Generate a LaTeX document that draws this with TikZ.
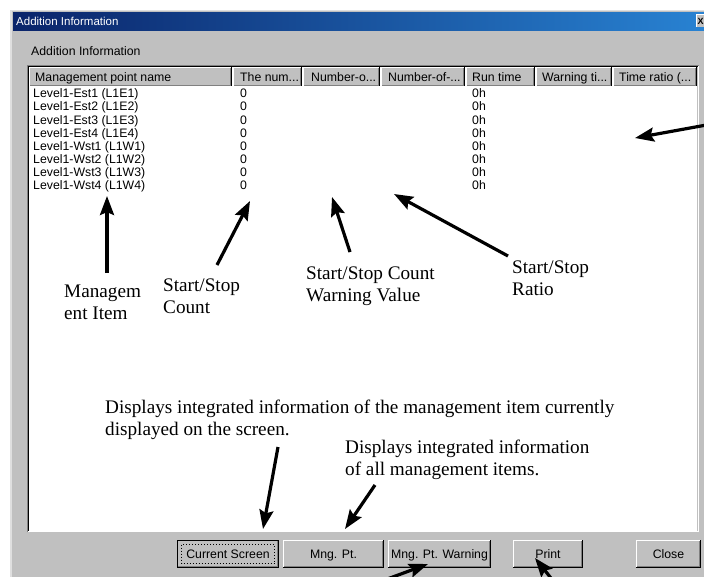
\documentclass[tikz,border=0pt]{standalone}
\usepackage{fontspec}
\setmainfont{Liberation Serif}
\newfontfamily\uifont{Liberation Sans}
\usetikzlibrary{arrows.meta}

\definecolor{winface}{RGB}{192,192,192}
\definecolor{winshadow}{RGB}{128,128,128}
\definecolor{winlight}{RGB}{223,223,223}
\definecolor{titlenavy}{RGB}{10,36,106}
\definecolor{titleblue}{RGB}{40,130,210}

% truncated column caption marker
\newcommand\trunc{...}

\tikzset{
  px/.style={line width=1pt},
  ui/.style={font=\uifont\fontsize{12.3}{14}\selectfont, inner sep=0pt, anchor=base west},
  note/.style={font=\fontsize{19.2}{22}\selectfont, inner sep=0pt, anchor=base west},
  callout/.style={line width=3.2pt, -{Stealth[length=19pt,width=14pt,inset=3pt]}},
}

\begin{document}
\begin{tikzpicture}[x=1pt,y=-1pt]
\useasboundingbox (0,0) rectangle (704,576);
\clip (0,0) rectangle (704,576);
\fill[white] (0,0) rectangle (704,576);

% dialog frame and title bar
\fill[winlight] (10,10) rectangle (710,580);
\fill[winface] (12,11) rectangle (710,580);
\shade[left color=titlenavy, right color=titleblue] (13,12) rectangle (704,30);
\node[ui, font=\uifont\fontsize{11.5}{13}\selectfont, text=white] (title) at (16,25.5) {Addition Information};
\fill[winface] (696,14) rectangle (715,27);
\draw[px, white] (696.5,27) -- (696.5,14.5) -- (715,14.5);
\node[ui, font=\uifont\bfseries\fontsize{9}{11}\selectfont] (closex) at (697.5,24.5) {X};

\node[ui] (grouplabel) at (31,55.5) {Addition Information};

% sunken list panel
\fill[white] (29,67) rectangle (697,531);
\draw[px, winshadow] (27.5,532) -- (27.5,65.5) -- (699,65.5);
\draw[px, black] (28.5,531) -- (28.5,66.5) -- (698,66.5);
\draw[px, white] (28,531.5) -- (698.5,531.5) -- (698.5,66);

% column headers
\foreach \xa/\xb/\tx/\txt/\nm in {
  29/232/35/Management point name/hname,
  233/302/240/The num\trunc/hnum,
  303/380/311/Number-o\trunc/hwarn,
  381/465/388/Number-of-\trunc/hratio,
  466/535/472/Run time/hrun,
  536/612/542/Warning ti\trunc/hwtime,
  613/697/619/Time ratio (\trunc/htratio}{
  \fill[winface] (\xa,67) rectangle (\xb,86);
  \draw[px, white] (\xa+0.5,86) -- (\xa+0.5,67.5) -- (\xb-1,67.5);
  \draw[px, winshadow] (\xa+1,85.5) -- (\xb-1.5,85.5) -- (\xb-1.5,68);
  \draw[px, black] (\xb-0.5,67) -- (\xb-0.5,86);
  \node[ui] (\nm) at (\tx,81.5) {\txt};
}

% list rows
\foreach \i/\txt in {0/Level1-Est1 (L1E1), 1/Level1-Est2 (L1E2), 2/Level1-Est3 (L1E3),
  3/Level1-Est4 (L1E4), 4/Level1-Wst1 (L1W1), 5/Level1-Wst2 (L1W2),
  6/Level1-Wst3 (L1W3), 7/Level1-Wst4 (L1W4)}{
  \node[ui] (row\i) at (33,{97.8+13.1*\i}) {\txt};
  \node[ui] (cnt\i) at (240,{97.8+13.1*\i}) {0};
  \node[ui] (run\i) at (472,{97.8+13.1*\i}) {0h};
}

% push buttons
\foreach \xa/\xb/\txt/\nm in {
  177/279/Current Screen/bcur,
  283/384/Mng. Pt./bmng,
  388/491/Mng. Pt. Warning/bmngw,
  513/583/Print/bprint,
  636/701/Close/bclose}{
  \fill[winface] (\xa,540) rectangle (\xb,568);
  \draw[px, white] (\xa+0.5,567) -- (\xa+0.5,540.5) -- (\xb-1,540.5);
  \draw[px, winshadow] (\xa+1,566.5) -- (\xb-1.5,566.5) -- (\xb-1.5,541);
  \draw[px, black] (\xa,567.5) -- (\xb-0.5,567.5) -- (\xb-0.5,540);
  \node[ui, anchor=base] (\nm) at ({(\xa+\xb)/2},558) {\txt};
}
% default button focus
\draw[px, black] (177.5,540.5) rectangle (278.5,567.5);
\draw[px, black, dotted] (181.5,544.5) rectangle (274.5,563.5);

% callout texts
\node[note] (mgmt1) at (64,297) {Managem};
\node[note] (mgmt2) at (64,319) {ent Item};
\node[note] (ssc1) at (163,291) {Start/Stop};
\node[note] (ssc2) at (163,313) {Count};
\node[note] (sscw1) at (306,279) {Start/Stop Count};
\node[note] (sscw2) at (306,301) {Warning Value};
\node[note] (ssr1) at (512,273) {Start/Stop};
\node[note] (ssr2) at (512,295) {Ratio};
\node[note] (cur1) at (105,413) {Displays integrated information of the management item currently};
\node[note] (cur2) at (105,435) {displayed on the screen.};
\node[note] (all1) at (345,453) {Displays integrated information};
\node[note] (all2) at (345,475) {of all management items.};

% callout arrows
\coordinate (tMgmt) at (107,273);   \coordinate (hMgmt) at (107,196);
\coordinate (tCnt)  at (217,265);   \coordinate (hCnt)  at (250,201);
\coordinate (tWarn) at (350,252);   \coordinate (hWarn) at (332,197);
\coordinate (tRat)  at (508,256);   \coordinate (hRat)  at (394,194);
\coordinate (tTime) at (712,124);   \coordinate (hTime) at (635,138);
\coordinate (tCur)  at (278,447);   \coordinate (hCur)  at (263,529);
\coordinate (tAll)  at (375,485);   \coordinate (hAll)  at (345,529);
\coordinate (tMw)   at (352,592);   \coordinate (hMw)   at (428,564);
\coordinate (tPr)   at (562,592);   \coordinate (hPr)   at (535,558);
\foreach \a/\b in {tMgmt/hMgmt, tCnt/hCnt, tWarn/hWarn, tRat/hRat, tTime/hTime,
  tCur/hCur, tAll/hAll, tMw/hMw, tPr/hPr}{
  \draw[callout] (\a) -- (\b);
}
\end{tikzpicture}
\end{document}
